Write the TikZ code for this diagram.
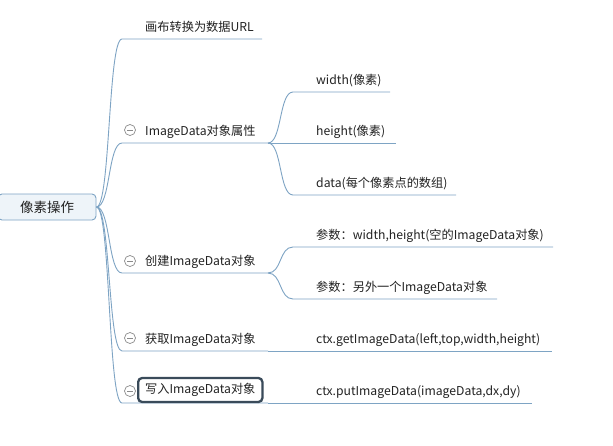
\documentclass[tikz,border=0pt]{standalone}
\usepackage{fontspec}
\setmainfont{Noto Sans CJK SC}
\usetikzlibrary{positioning}
\definecolor{mmline}{HTML}{7EA4C4}
\definecolor{mmfill}{HTML}{EEF4F9}
\definecolor{mmtext}{HTML}{222222}
\definecolor{mmsel}{HTML}{3A4B5A}
\definecolor{mmicon}{HTML}{8A8A8A}

\begin{document}
\begin{tikzpicture}[x=1pt,y=-1pt,
  font=\fontsize{12.2}{14}\selectfont,
  link/.style={draw=mmline,line width=0.9pt},
  topic/.style={anchor=base west,inner sep=0pt,text=mmtext},
  fold/.style={circle,draw=mmicon,line width=0.7pt,minimum size=11pt,inner sep=0pt,fill=white,
    path picture={\draw[mmicon,line width=0.7pt] ([xshift=2.5pt]path picture bounding box.west) -- ([xshift=-2.5pt]path picture bounding box.east);}}]
\useasboundingbox[fill=white] (0,0) rectangle (613,445);

% central topic
\node[draw=mmline,fill=mmfill,rounded corners=4pt,line width=0.9pt,minimum width=98pt,minimum height=26pt,
  font=\fontsize{13.5}{15}\selectfont,text=mmtext] (root) at (47,207) {像素操作};

% branch anchors
\coordinate (urlL) at (122,39);    \coordinate (urlR) at (262,39);
\coordinate (attrL) at (122,143);  \coordinate (attrR) at (268,143);
\coordinate (newL) at (122,273);   \coordinate (newR) at (268,273);
\coordinate (getL) at (122,351);   \coordinate (getR) at (268,351);
\coordinate (putL) at (122,403);   \coordinate (putR) at (268,403);

% branches from the root
\foreach \b in {url,attr,new,get,put}
  \draw[link] (root.east) .. controls +(14,0) and ([xshift=-14pt]\b L) .. (\b L) -- (\b R);

% branch texts
\node[topic] (url) at (145,31) {画布转换为数据URL};
\node[topic] (attr) at (145,135) {ImageData对象属性};
\node[topic] (new) at (145,265) {创建ImageData对象};
\node[topic] (get) at (145,343) {获取ImageData对象};
\node[fold] (attrF) at (130,130) {};
\node[fold] (newF) at (130,261) {};
\node[fold] (getF) at (130,338) {};
\node[fold] (putF) at (130,391) {};
\node[topic,draw=mmsel,line width=2.3pt,rounded corners=4pt,fill=white,anchor=west,
  inner xsep=7pt,minimum height=24pt] (put) at (137,390) {写入ImageData对象};

% sub-topic anchors
\coordinate (wR) at (390,92);   \coordinate (hR) at (396,143);  \coordinate (dR) at (456,195);
\coordinate (p1R) at (553,247); \coordinate (p2R) at (497,299);
\coordinate (gR) at (552,351);  \coordinate (ptR) at (532,403);

% sub-topic links
\draw[link] (attrR) .. controls +(14,0) and +(-14,0) .. (293,92) -- (wR);
\draw[link] (attrR) -- (hR);
\draw[link] (attrR) .. controls +(14,0) and +(-14,0) .. (293,195) -- (dR);
\draw[link] (newR) .. controls +(14,0) and +(-14,0) .. (293,247) -- (p1R);
\draw[link] (newR) .. controls +(14,0) and +(-14,0) .. (293,299) -- (p2R);
\draw[link] (getR) -- (gR);
\draw[link] (putR) -- (ptR);

% sub-topic texts
\node[topic] (w) at (316,84) {width(像素)};
\node[topic] (h) at (316,135) {height(像素)};
\node[topic] (d) at (316,187) {data(每个像素点的数组)};
\node[topic] (p1) at (316,239) {参数：width,height(空的ImageData对象)};
\node[topic] (p2) at (316,291) {参数：另外一个ImageData对象};
\node[topic] (g) at (316,343) {ctx.getImageData(left,top,width,height)};
\node[topic] (pt) at (316,395) {ctx.putImageData(imageData,dx,dy)};
\end{tikzpicture}
\end{document}
